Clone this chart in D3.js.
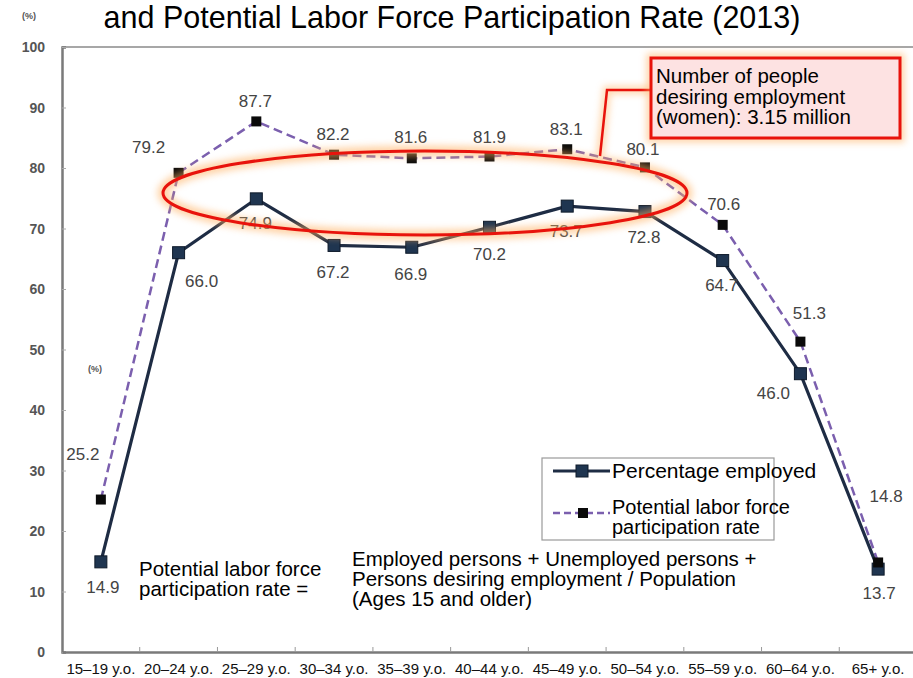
<!DOCTYPE html>
<html>
<head>
<meta charset="utf-8">
<script src="https://cdn.jsdelivr.net/npm/d3@7"></script>
<style>
  html, body { margin: 0; padding: 0; background: #fff; }
  svg { display: block; font-family: "Liberation Sans", Arial, sans-serif; }
</style>
</head>
<body>
<svg id="chart" width="913" height="678"></svg>
<script>
// Age groups on the horizontal axis
const categories = ["15–19 y.o.", "20–24 y.o.", "25–29 y.o.", "30–34 y.o.", "35–39 y.o.",
  "40–44 y.o.", "45–49 y.o.", "50–54 y.o.", "55–59 y.o.", "60–64 y.o.", "65+ y.o."];
// Percentage employed (women, 2013)
const employed = [14.9, 66.0, 74.9, 67.2, 66.9, 70.2, 73.7, 72.8, 64.7, 46.0, 13.7];
// Potential labor force participation rate (women, 2013)
const potential = [25.2, 79.2, 87.7, 82.2, 81.6, 81.9, 83.1, 80.1, 70.6, 51.3, 14.8];
// Y axis ticks
const yTicks = [0, 10, 20, 30, 40, 50, 60, 70, 80, 90, 100];

// Label offsets (dx, dy to baseline) from each point
const employedLabelOffset = [[2, 31], [23, 34], [-1, 30], [-1, 33], [-1, 33], [0, 33], [-1, 31], [-1, 31], [-1, 30], [-27, 25], [1, 30]];
const potentialLabelOffset = [[-18, -40], [-30, -20], [-1, -14], [-1, -15], [-1, -15], [0, -14], [-1, -14], [-2, -12], [1, -15], [9, -23], [8, -60]];

(function () {
const svg = d3.select("#chart");
const W = 913;
const mLeft = 62, mTop = 47, mBottom = 652, mRight = 917;

const x = d3.scaleBand().domain(categories).range([mLeft, mRight]).padding(0);
const y = d3.scaleLinear().domain([0, 100]).range([mBottom, mTop]);
const cx = d => x(d) + x.bandwidth() / 2;

const defs = svg.append("defs");
const glow = defs.append("filter").attr("id", "glow").attr("x", "-20%").attr("y", "-50%").attr("width", "140%").attr("height", "200%");
glow.append("feGaussianBlur").attr("stdDeviation", 3.5);

// Title (second line)
svg.append("text")
  .attr("x", 452).attr("y", 28)
  .attr("text-anchor", "middle")
  .attr("font-size", 30.5)
  .attr("fill", "#000")
  .text("and Potential Labor Force Participation Rate (2013)");

// unit label
svg.append("text").attr("x", 22).attr("y", 19).attr("font-size", 9).attr("fill", "#555").attr("font-weight", "bold").text("(%)");

// Frame top line
svg.append("line").attr("x1", mLeft).attr("x2", W).attr("y1", mTop).attr("y2", mTop)
  .attr("stroke", "#8a8a8a").attr("stroke-width", 1.5);

// Y axis
const yAxis = d3.axisRight(y).tickValues(yTicks).tickSize(4).tickFormat("");
const gy = svg.append("g").attr("transform", `translate(${mLeft},0)`).call(yAxis);
gy.select(".domain").attr("stroke", "#7a7a7a").attr("stroke-width", 2.5);
gy.selectAll(".tick line").attr("stroke", "#aaa");
svg.append("g").selectAll("text").data(yTicks).join("text")
  .attr("x", 45).attr("y", d => y(d) + 5)
  .attr("text-anchor", "end")
  .attr("font-size", 14).attr("font-weight", "bold").attr("fill", "#555")
  .text(d => d);

// X axis
const xAxis = d3.axisTop(x).tickSize(0).tickFormat("");
const gx = svg.append("g").attr("transform", `translate(0,${mBottom})`).call(xAxis);
gx.select(".domain").attr("stroke", "#7a7a7a").attr("stroke-width", 2.5);
// tick marks at band boundaries
svg.append("g").selectAll("line").data(categories.slice(1)).join("line")
  .attr("x1", d => x(d)).attr("x2", d => x(d))
  .attr("y1", mBottom).attr("y2", mBottom - 5)
  .attr("stroke", "#999").attr("stroke-width", 1);
svg.append("g").selectAll("text").data(categories).join("text")
  .attr("x", d => cx(d)).attr("y", 674)
  .attr("text-anchor", "middle")
  .attr("font-size", 15).attr("fill", "#111")
  .text(d => d);

// Lines
const lineGen = vals => d3.line().x((d, i) => cx(categories[i])).y(d => y(d))(vals);

svg.append("path").attr("d", lineGen(potential))
  .attr("fill", "none").attr("stroke", "#7b5fae").attr("stroke-width", 2.5)
  .attr("stroke-dasharray", "9,5");
svg.append("path").attr("d", lineGen(employed))
  .attr("fill", "none").attr("stroke", "#1e2c44").attr("stroke-width", 3.2);

// Markers
svg.append("g").selectAll("rect").data(employed).join("rect")
  .attr("x", (d, i) => cx(categories[i]) - 6).attr("y", d => y(d) - 6)
  .attr("width", 12).attr("height", 12)
  .attr("fill", "#1f3550").attr("stroke", "#0e1a2a").attr("stroke-width", 1);
svg.append("g").selectAll("rect").data(potential).join("rect")
  .attr("x", (d, i) => cx(categories[i]) - 5).attr("y", d => y(d) - 5)
  .attr("width", 10).attr("height", 10)
  .attr("fill", "#0a0a0a");

// Value labels
svg.append("g").selectAll("text").data(employed).join("text")
  .attr("x", (d, i) => cx(categories[i]) + employedLabelOffset[i][0])
  .attr("y", (d, i) => y(d) + employedLabelOffset[i][1])
  .attr("text-anchor", "middle").attr("font-size", 17).attr("fill", "#444")
  .text(d => d.toFixed(1));
svg.append("g").selectAll("text").data(potential).join("text")
  .attr("x", (d, i) => cx(categories[i]) + potentialLabelOffset[i][0])
  .attr("y", (d, i) => y(d) + potentialLabelOffset[i][1])
  .attr("text-anchor", "middle").attr("font-size", 17).attr("fill", "#444")
  .text(d => d.toFixed(1));

// second unit label inside plot
svg.append("text").attr("x", 88).attr("y", 372).attr("font-size", 9).attr("fill", "#555").attr("font-weight", "bold").text("(%)");

// Highlight ellipse around the prime working-age range
const ell = { cx: 425, cy: 193, rx: 262, ry: 42 };
svg.append("ellipse").attr("cx", ell.cx).attr("cy", ell.cy).attr("rx", ell.rx).attr("ry", ell.ry)
  .attr("fill", "none").attr("stroke", "#ffb060").attr("stroke-width", 11).attr("opacity", 0.55)
  .attr("filter", "url(#glow)");
svg.append("ellipse").attr("cx", ell.cx).attr("cy", ell.cy).attr("rx", ell.rx).attr("ry", ell.ry)
  .attr("fill", "none").attr("stroke", "#e8130c").attr("stroke-width", 3);

// Callout connector and box
const callout = { x: 651, y: 58, w: 249, h: 80 };
const conn = [[callout.x, 90], [607, 90], [600, 156]];
svg.append("polyline").attr("points", conn.join(" "))
  .attr("fill", "none").attr("stroke", "#ffb060").attr("stroke-width", 8).attr("opacity", 0.5).attr("filter", "url(#glow)");
svg.append("polyline").attr("points", conn.join(" "))
  .attr("fill", "none").attr("stroke", "#e8130c").attr("stroke-width", 2.5);
svg.append("rect").attr("x", callout.x).attr("y", callout.y).attr("width", callout.w).attr("height", callout.h)
  .attr("fill", "none").attr("stroke", "#ffb060").attr("stroke-width", 9).attr("opacity", 0.55).attr("filter", "url(#glow)");
svg.append("rect").attr("x", callout.x).attr("y", callout.y).attr("width", callout.w).attr("height", callout.h)
  .attr("fill", "#fde2e2").attr("stroke", "#e8130c").attr("stroke-width", 3);
const calloutText = svg.append("text").attr("font-size", 20.5).attr("fill", "#000");
["Number of people", "desiring employment", "(women): 3.15 million"].forEach((t, i) => {
  calloutText.append("tspan").attr("x", 656).attr("y", 83 + i * 20.5).text(t);
});

// Legend
const lg = svg.append("g");
lg.append("rect").attr("x", 542).attr("y", 458).attr("width", 232).attr("height", 82)
  .attr("fill", "#fff").attr("stroke", "#9a9a9a").attr("stroke-width", 1.2);
lg.append("line").attr("x1", 553).attr("x2", 610).attr("y1", 471).attr("y2", 471)
  .attr("stroke", "#1e2c44").attr("stroke-width", 3.2);
lg.append("rect").attr("x", 576).attr("y", 465).attr("width", 12).attr("height", 12)
  .attr("fill", "#1f3550").attr("stroke", "#0e1a2a");
lg.append("line").attr("x1", 553).attr("x2", 610).attr("y1", 513).attr("y2", 513)
  .attr("stroke", "#7b5fae").attr("stroke-width", 2.5).attr("stroke-dasharray", "7,4");
lg.append("rect").attr("x", 578).attr("y", 508).attr("width", 10).attr("height", 10).attr("fill", "#0a0a0a");
lg.append("text").attr("x", 612).attr("y", 478).attr("font-size", 21).text("Percentage employed");
const lt = lg.append("text").attr("font-size", 20);
lt.append("tspan").attr("x", 612).attr("y", 514).text("Potential labor force");
lt.append("tspan").attr("x", 612).attr("y", 534).text("participation rate");

// Formula annotation
const f1 = svg.append("text").attr("font-size", 20.5).attr("fill", "#000");
f1.append("tspan").attr("x", 139).attr("y", 576).text("Potential labor force");
f1.append("tspan").attr("x", 139).attr("y", 596).text("participation rate =");
const f2 = svg.append("text").attr("font-size", 20.5).attr("fill", "#000");
["Employed persons + Unemployed persons +", "Persons desiring employment / Population", "(Ages 15 and older)"]
  .forEach((t, i) => f2.append("tspan").attr("x", 352).attr("y", 566 + i * 20).text(t));
})();
</script>
</body>
</html>
